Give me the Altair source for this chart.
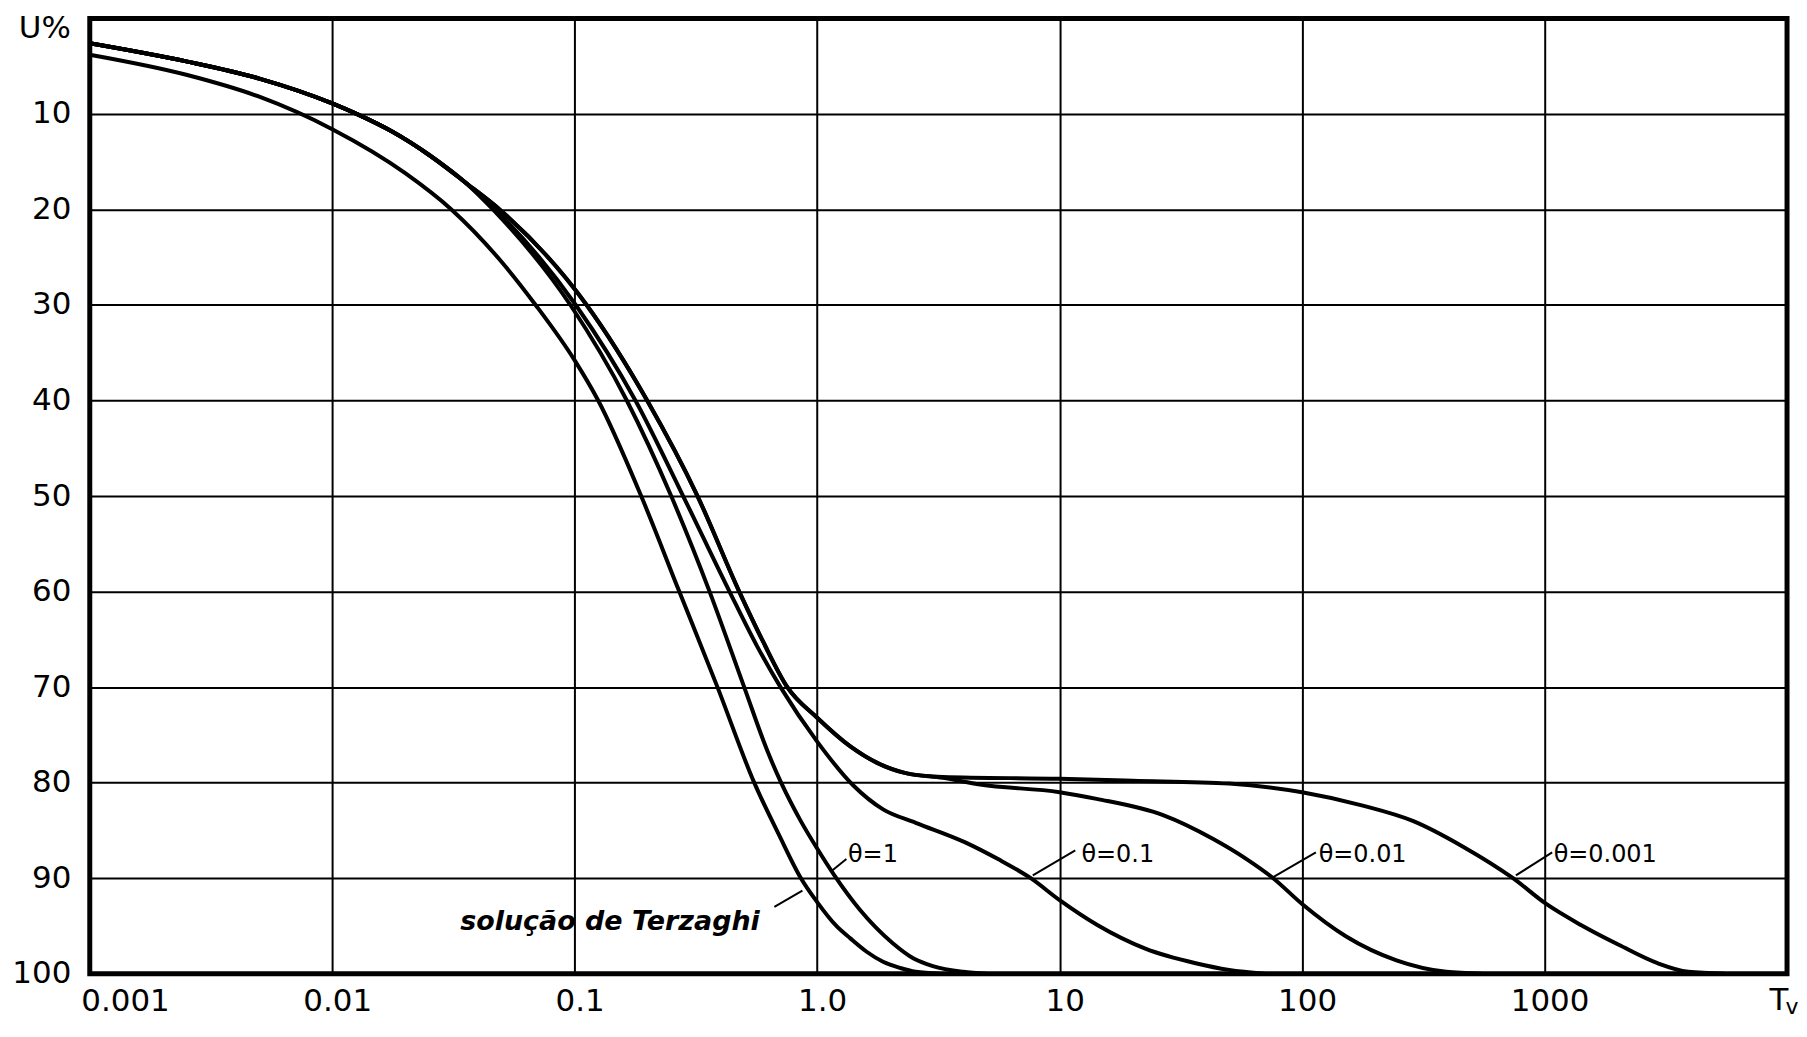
import json
import altair as alt
import pandas as pd

# ---------------- data ----------------
terz_T = [0.001, 0.0025, 0.005, 0.01, 0.02, 0.031, 0.05, 0.069, 0.1, 0.125,
          0.188, 0.27, 0.388, 0.55, 0.70, 0.857, 1.0, 1.2, 1.37, 1.6, 1.87, 2.2, 2.55, 3.2]
terz_U = [3.8, 5.9, 8.2, 11.6, 16.2, 20.0, 25.5, 30.0, 35.8, 40.0,
          50.0, 60.0, 70.0, 80.0, 85.6, 90.0, 92.5, 95.0, 96.3, 97.7, 98.75, 99.4, 99.8, 100.0]

th1_T = [0.001, 0.0025, 0.005, 0.01, 0.0126, 0.0178, 0.0251, 0.0355, 0.046, 0.096, 0.164,
         0.25, 0.36, 0.5, 0.626, 0.71, 0.855, 1.0, 1.17, 1.5, 2.05, 2.5, 3.0, 4.0, 5.0]
th1_U = [2.6, 4.5, 6.3, 8.9, 10.0, 11.9, 14.3, 17.2, 20.0, 30.0, 40.0,
         50.0, 60.0, 70.0, 76.8, 80.0, 84.0, 86.9, 89.6, 93.3, 96.8, 98.4, 99.2, 99.8, 100.0]

th01_T = [0.001, 0.0025, 0.005, 0.01, 0.0126, 0.0178, 0.0251, 0.0355, 0.047, 0.101, 0.178,
          0.28, 0.435, 0.562, 0.706, 1.0, 1.41, 1.87, 2.55, 4.08, 5.57, 7.6, 10.0, 14.3, 22.7,
          36.4, 50.0, 70.0]
th01_U = [2.6, 4.5, 6.3, 8.9, 10.0, 11.9, 14.3, 17.2, 20.0, 30.0, 40.0,
          50.0, 60.0, 65.6, 70.0, 75.7, 80.3, 82.8, 84.2, 86.25, 88.0, 90.0, 92.3, 94.9, 97.4,
          98.9, 99.6, 100.0]

th001_T = [0.001, 0.0025, 0.005, 0.01, 0.0126, 0.0178, 0.0251, 0.0355, 0.049, 0.112, 0.199,
           0.321, 0.477, 0.6, 0.753, 1.0, 1.37, 1.76, 2.32, 3.3, 4.7, 10.0, 14.2, 26.7, 43.0,
           59.0, 76.0, 100.0, 152.0, 245.0, 393.0, 550.0]
th001_U = [2.6, 4.5, 6.3, 8.9, 10.0, 11.9, 14.3, 17.2, 20.0, 30.0, 40.0,
           50.0, 60.0, 65.3, 70.0, 73.2, 76.2, 77.9, 79.0, 79.5, 80.2, 81.0, 81.7, 83.4, 85.9,
           88.0, 90.0, 92.7, 96.1, 98.6, 99.8, 100.0]

th0001_T = [0.001, 0.0025, 0.005, 0.01, 0.0126, 0.0178, 0.0251, 0.0355, 0.049, 0.112, 0.199,
            0.321, 0.477, 0.6, 0.753, 1.0, 1.37, 1.76, 2.32, 3.3, 10.0, 20.0, 50.0, 100.0,
            178.0, 286.0, 461.0, 741.0, 1016.0, 1412.0, 2032.0, 2924.0, 3912.0, 5500.0]
th0001_U = [2.6, 4.5, 6.3, 8.9, 10.0, 11.9, 14.3, 17.2, 20.0, 30.0, 40.0,
            50.0, 60.0, 65.3, 70.0, 73.2, 76.2, 77.9, 79.0, 79.4, 79.6, 79.8, 80.1, 81.0,
            82.4, 84.0, 86.7, 90.0, 92.7, 94.9, 97.0, 98.9, 99.8, 100.0]

series_names = ["Terzaghi", "θ=1", "θ=0.1", "θ=0.01", "θ=0.001"]
series_T = [terz_T, th1_T, th01_T, th001_T, th0001_T]
series_U = [terz_U, th1_U, th01_U, th001_U, th0001_U]

# annotation labels
ann_text = ["θ=1", "θ=0.1", "θ=0.01", "θ=0.001"]
ann_T = [1.34, 12.3, 117.0, 1090.0]
ann_U = [87.6, 87.6, 87.6, 87.6]

# pointer segments (label -> curve)
ptr_T1 = [1.14, 7.75, 76.0, 762.0, 0.869]
ptr_U1 = [89.3, 89.7, 89.9, 89.7, 91.3]
ptr_T2 = [1.32, 11.6, 114.0, 1075.0, 0.666]
ptr_U2 = [88.0, 87.1, 87.3, 87.3, 93.0]

terz_label = ["solução de Terzaghi"]
terz_label_T = [0.58]
terz_label_U = [94.6]

# axes
x_ticks = [0.001, 0.01, 0.1, 1, 10, 100, 1000, 10000]
x_tick_labels = ["0.001", "0.01", "0.1", "1.0", "10", "100", "1000", ""]
y_ticks = [0, 10, 20, 30, 40, 50, 60, 70, 80, 90, 100]
y_tick_labels = ["", "10", "20", "30", "40", "50", "60", "70", "80", "90", "100"]
y_title = ["U%"]
x_title_main = ["T"]
x_title_sub = ["v"]

# ---------------- tables ----------------
curves = pd.concat(
    [pd.DataFrame({"serie": n, "T": t, "U": u}) for n, t, u in zip(series_names, series_T, series_U)],
    ignore_index=True,
)
ann_df = pd.DataFrame({"label": ann_text, "T": ann_T, "U": ann_U})
ptr_df = pd.DataFrame({"T": ptr_T1, "U": ptr_U1, "T2": ptr_T2, "U2": ptr_U2})
terz_df = pd.DataFrame({"label": terz_label, "T": terz_label_T, "U": terz_label_U})
ylab_df = pd.DataFrame({"label": y_title, "T": [x_ticks[0]], "U": [y_ticks[0]]})
xlab_df = pd.DataFrame({"label": x_title_main, "T": [x_ticks[-1]], "U": [y_ticks[-1]]})
xsub_df = pd.DataFrame({"label": x_title_sub, "T": [x_ticks[-1]], "U": [y_ticks[-1]]})

FONT = "DejaVu Sans"
TICK_FS = 31

x_scale = alt.Scale(type="log", domain=[x_ticks[0], x_ticks[-1]], nice=False)
y_scale = alt.Scale(domain=[y_ticks[0], y_ticks[-1]], reverse=True, nice=False)

x_axis = alt.Axis(
    values=x_ticks,
    labelExpr=json.dumps(x_tick_labels) + "[round(log(datum.value)/LN10) + 3]",
    grid=True, gridColor="black", gridWidth=2, gridOpacity=1,
    ticks=False, tickSize=0, domain=False, title=None,
    labelFont=FONT, labelFontSize=TICK_FS, labelColor="black",
    labelPadding=13, labelOverlap=False, labelFlush=True, labelFlushOffset=14,
    labelOffset=5,
)
y_axis = alt.Axis(
    values=y_ticks,
    labelExpr=json.dumps(y_tick_labels) + "[round(datum.value/10)]",
    grid=True, gridColor="black", gridWidth=2, gridOpacity=1,
    ticks=False, tickSize=0, domain=False, title=None,
    labelFont=FONT, labelFontSize=TICK_FS, labelColor="black",
    labelPadding=19, labelOverlap=False, labelFlush=False,
)

X = alt.X("T:Q", scale=x_scale, axis=x_axis)
Y = alt.Y("U:Q", scale=y_scale, axis=y_axis)

lines = alt.Chart(curves).mark_line(
    color="black", strokeWidth=4, interpolate="monotone", clip=True
).encode(x=X, y=Y, detail="serie:N")

pointers = alt.Chart(ptr_df).mark_rule(color="black", strokeWidth=2).encode(
    x=X, y=Y, x2="T2:Q", y2="U2:Q"
)

ann = alt.Chart(ann_df).mark_text(
    align="left", baseline="middle", font=FONT, fontSize=24, color="black"
).encode(x=X, y=Y, text="label:N")

terz_txt = alt.Chart(terz_df).mark_text(
    align="right", baseline="middle", font=FONT, fontSize=27, fontStyle="italic",
    fontWeight="bold", color="black"
).encode(x=X, y=Y, text="label:N")

ylab = alt.Chart(ylab_df).mark_text(
    align="right", baseline="top", font=FONT, fontSize=TICK_FS, color="black", dx=-19, dy=-4
).encode(x=X, y=Y, text="label:N")

xlab = alt.Chart(xlab_df).mark_text(
    align="center", baseline="alphabetic", font=FONT, fontSize=TICK_FS, color="black", dx=-8, dy=36
).encode(x=X, y=Y, text="label:N")

xsub = alt.Chart(xsub_df).mark_text(
    align="center", baseline="alphabetic", font=FONT, fontSize=22, color="black", dx=5, dy=40
).encode(x=X, y=Y, text="label:N")

chart = (
    alt.layer(lines, pointers, ann, terz_txt, ylab, xlab, xsub)
    .properties(
        width=1702, height=958,
        autosize=alt.AutoSizeParams(type="none"),
        padding={"left": 82, "top": 9, "right": 12, "bottom": 50},
        background="white",
    )
    .configure_view(stroke="black", strokeWidth=5)
)

chart.save("out.html", embed_options={"renderer": "svg", "actions": False})
